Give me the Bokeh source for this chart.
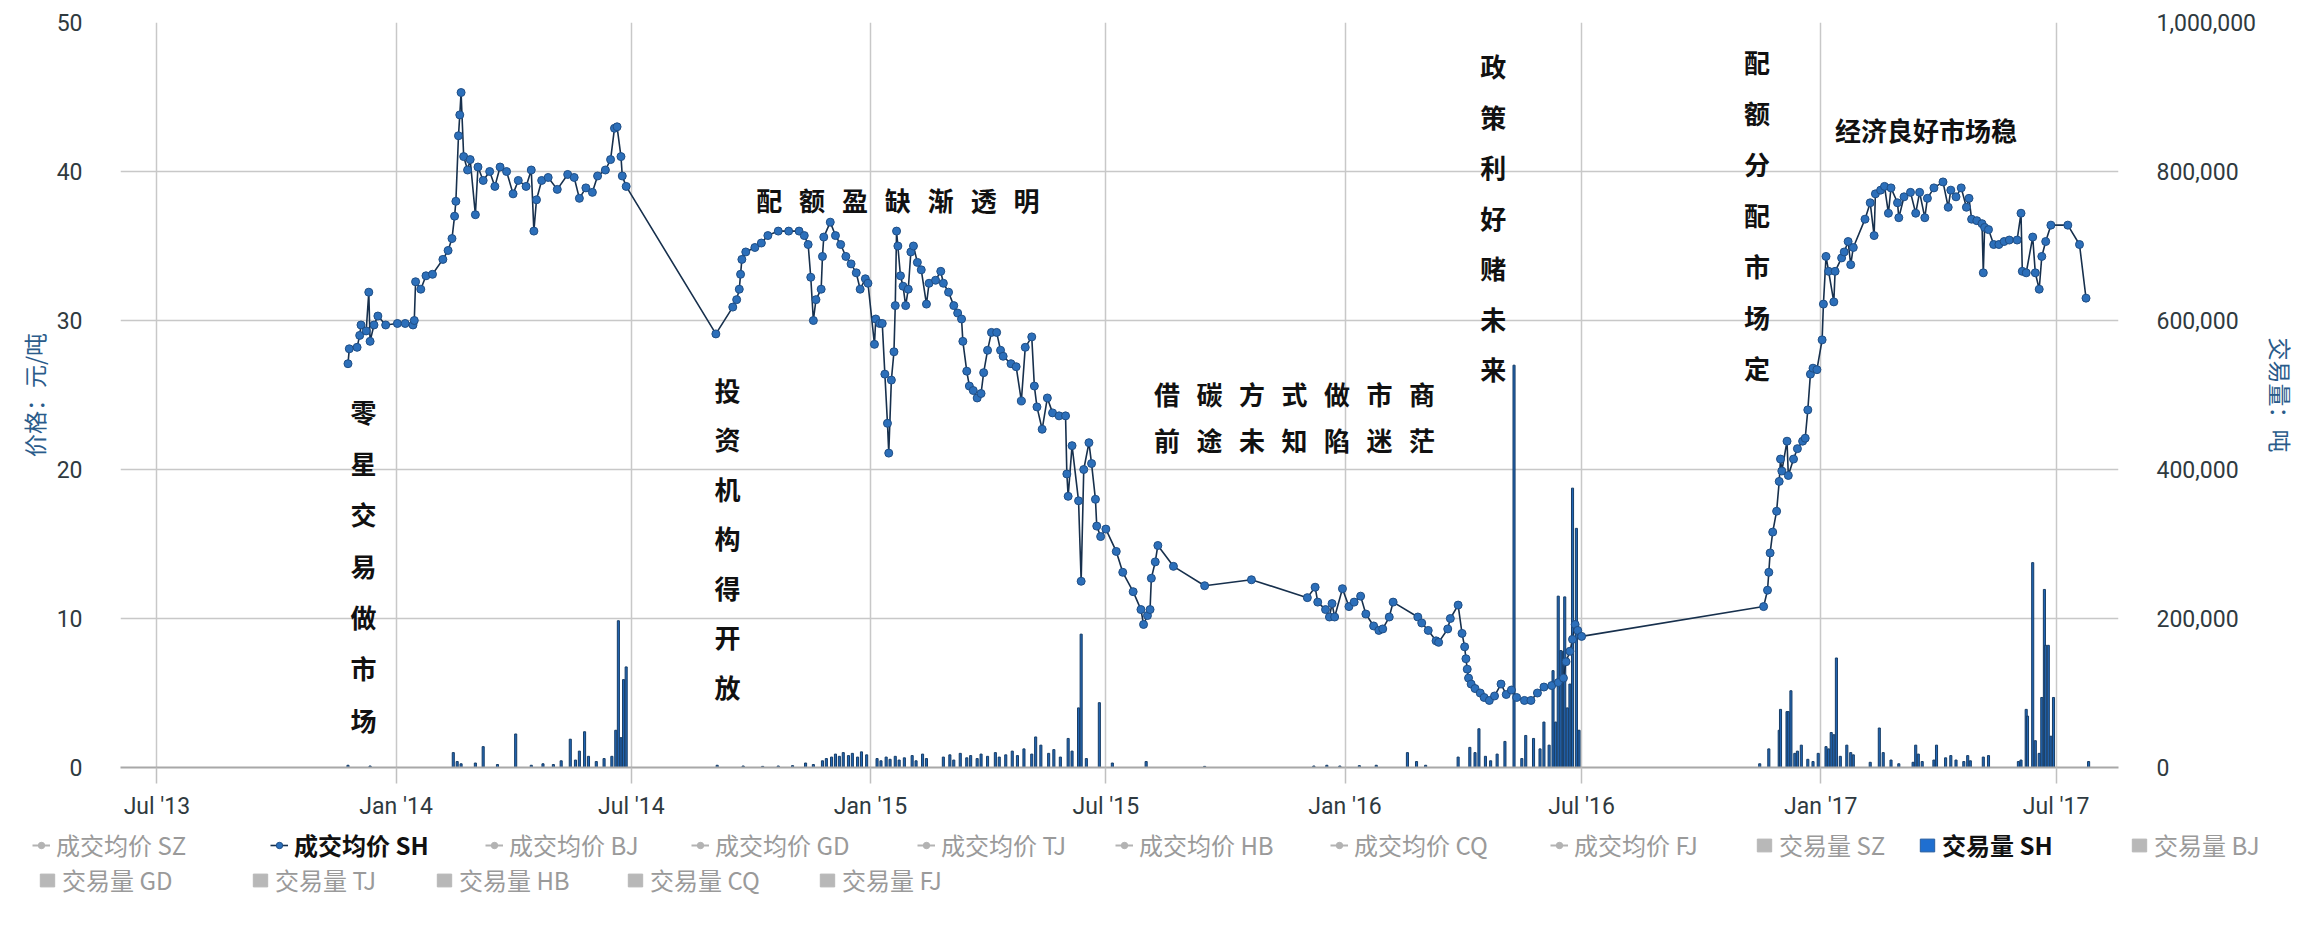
import pandas as pd
from datetime import datetime
from bokeh.plotting import figure
from bokeh.layouts import column
from bokeh.models import (ColumnDataSource, Range1d, LinearAxis, Legend, LegendItem,
                          MonthsTicker, DatetimeTickFormatter, SingleIntervalTicker,
                          NumeralTickFormatter)
from bokeh.core.properties import value
from bokeh.embed import file_html
from bokeh.resources import INLINE

# ---------------- data ----------------
price_dates = [
    "2013-11-25", "2013-11-26", "2013-12-02", "2013-12-04", "2013-12-05", "2013-12-09", "2013-12-11",
    "2013-12-12", "2013-12-15", "2013-12-18", "2013-12-24",
    "2014-01-02", "2014-01-08", "2014-01-14", "2014-01-15", "2014-01-16", "2014-01-20", "2014-01-24",
    "2014-01-29", "2014-02-06", "2014-02-10", "2014-02-13", "2014-02-15", "2014-02-16", "2014-02-18",
    "2014-02-19", "2014-02-20", "2014-02-22", "2014-02-25", "2014-02-27", "2014-03-03", "2014-03-05",
    "2014-03-09", "2014-03-14", "2014-03-18", "2014-03-22", "2014-03-27", "2014-04-01", "2014-04-05",
    "2014-04-11", "2014-04-15", "2014-04-17", "2014-04-19", "2014-04-23", "2014-04-28", "2014-05-05",
    "2014-05-13", "2014-05-18", "2014-05-22", "2014-05-27", "2014-06-01", "2014-06-05", "2014-06-11",
    "2014-06-15", "2014-06-18", "2014-06-20", "2014-06-23", "2014-06-24", "2014-06-27",
    "2014-09-04", "2014-09-17", "2014-09-20", "2014-09-22", "2014-09-23", "2014-09-24", "2014-09-27",
    "2014-10-04", "2014-10-09", "2014-10-14", "2014-10-22", "2014-10-30", "2014-11-07", "2014-11-11",
    "2014-11-14", "2014-11-16", "2014-11-18", "2014-11-20", "2014-11-24", "2014-11-25", "2014-11-26",
    "2014-12-01", "2014-12-05", "2014-12-09", "2014-12-13", "2014-12-17", "2014-12-21", "2014-12-24",
    "2014-12-28", "2014-12-30",
    "2015-01-04", "2015-01-05", "2015-01-08", "2015-01-10", "2015-01-12", "2015-01-14", "2015-01-15",
    "2015-01-17", "2015-01-19", "2015-01-20", "2015-01-21", "2015-01-22", "2015-01-24", "2015-01-26",
    "2015-01-28", "2015-01-30", "2015-02-01", "2015-02-03", "2015-02-06", "2015-02-09", "2015-02-13",
    "2015-02-15", "2015-02-20", "2015-02-24", "2015-02-26", "2015-03-02", "2015-03-06", "2015-03-09",
    "2015-03-12", "2015-03-13", "2015-03-16", "2015-03-18", "2015-03-21", "2015-03-24", "2015-03-27",
    "2015-03-29", "2015-04-01", "2015-04-04", "2015-04-08", "2015-04-11", "2015-04-13", "2015-04-19",
    "2015-04-23", "2015-04-27", "2015-04-30", "2015-05-05", "2015-05-07", "2015-05-09", "2015-05-13",
    "2015-05-17", "2015-05-21", "2015-05-26", "2015-05-31", "2015-06-01", "2015-06-02", "2015-06-05",
    "2015-06-10", "2015-06-12", "2015-06-14", "2015-06-18", "2015-06-20", "2015-06-23", "2015-06-24",
    "2015-06-27", "2015-07-01", "2015-07-09", "2015-07-14", "2015-07-22", "2015-07-28", "2015-07-30",
    "2015-08-02", "2015-08-04", "2015-08-05", "2015-08-08", "2015-08-10", "2015-08-22", "2015-09-15",
    "2015-10-21", "2015-12-03", "2015-12-09", "2015-12-11", "2015-12-17", "2015-12-20", "2015-12-22",
    "2015-12-24", "2015-12-30",
    "2016-01-04", "2016-01-08", "2016-01-13", "2016-01-17", "2016-01-23", "2016-01-27", "2016-01-30",
    "2016-02-04", "2016-02-07", "2016-02-26", "2016-02-29", "2016-03-05", "2016-03-11", "2016-03-13",
    "2016-03-20", "2016-03-22", "2016-03-28", "2016-03-31", "2016-04-02", "2016-04-03", "2016-04-04",
    "2016-04-05", "2016-04-07", "2016-04-10", "2016-04-14", "2016-04-17", "2016-04-21", "2016-04-25",
    "2016-04-30", "2016-05-04", "2016-05-08", "2016-05-12", "2016-05-18", "2016-05-23", "2016-05-28",
    "2016-06-02", "2016-06-08", "2016-06-13", "2016-06-17", "2016-06-19", "2016-06-22", "2016-06-24",
    "2016-06-26", "2016-06-28", "2016-07-01",
    "2016-11-18", "2016-11-21", "2016-11-22", "2016-11-23", "2016-11-25", "2016-11-28", "2016-11-30",
    "2016-12-01", "2016-12-02", "2016-12-06", "2016-12-07", "2016-12-11", "2016-12-14", "2016-12-18",
    "2016-12-20", "2016-12-22", "2016-12-24", "2016-12-26", "2016-12-29",
    "2017-01-02", "2017-01-03", "2017-01-05", "2017-01-07", "2017-01-11", "2017-01-12", "2017-01-17",
    "2017-01-19", "2017-01-22", "2017-01-24", "2017-01-26", "2017-02-04", "2017-02-08", "2017-02-11",
    "2017-02-12", "2017-02-16", "2017-02-19", "2017-02-22", "2017-02-24", "2017-03-01", "2017-03-02",
    "2017-03-06", "2017-03-11", "2017-03-15", "2017-03-18", "2017-03-22", "2017-03-24", "2017-03-29",
    "2017-04-05", "2017-04-09", "2017-04-11", "2017-04-15", "2017-04-19", "2017-04-23", "2017-04-25",
    "2017-04-27", "2017-05-01", "2017-05-05", "2017-05-06", "2017-05-07", "2017-05-10", "2017-05-14",
    "2017-05-18", "2017-05-22", "2017-05-26", "2017-06-01", "2017-06-04", "2017-06-05", "2017-06-08",
    "2017-06-13", "2017-06-15", "2017-06-18", "2017-06-20", "2017-06-23", "2017-06-27", "2017-07-10",
    "2017-07-19", "2017-07-24",
]
price_values = [
    27.1, 28.1, 28.2, 29.0, 29.7, 29.3, 31.9,
    28.6, 29.7, 30.3, 29.7,
    29.8, 29.8, 29.7, 30.0, 32.6, 32.1, 33.0,
    33.1, 34.1, 34.7, 35.5, 37.0, 38.0, 42.4,
    43.8, 45.3, 41.0, 40.1, 40.8, 37.1, 40.3,
    39.4, 40.0, 39.0, 40.3, 40.0, 38.5, 39.4,
    39.0, 40.1, 36.0, 38.1, 39.4, 39.6, 38.8,
    39.8, 39.6, 38.2, 38.9, 38.6, 39.7, 40.1,
    40.8, 42.9, 43.0, 41.0, 39.7, 39.0,
    29.1, 30.9, 31.4, 32.1, 33.1, 34.1, 34.6,
    34.9, 35.2, 35.7, 36.0, 36.0, 36.0, 35.7,
    35.1, 32.9, 30.0, 31.4, 32.1, 34.3, 35.6,
    36.6, 35.7, 35.1, 34.3, 33.8, 33.2, 32.1,
    32.8, 32.5,
    28.4, 30.1, 29.8, 29.8, 26.4, 23.1, 21.1,
    26.0, 27.9, 31.0, 36.0, 35.0, 33.0, 32.3,
    31.0, 32.1, 34.6, 35.0, 33.9, 33.4, 31.1,
    32.5, 32.7, 33.3, 32.5, 31.9, 31.0, 30.5,
    30.1, 28.6, 26.6, 25.6, 25.3, 24.8, 25.1,
    26.5, 28.0, 29.2, 29.2, 28.0, 27.6, 27.1,
    26.9, 24.6, 28.2, 28.9, 25.6, 24.2, 22.7,
    24.8, 23.8, 23.6, 23.6, 19.7, 18.2, 21.6,
    17.9, 12.5, 20.0, 21.8, 20.4, 18.0, 16.2,
    15.5, 16.0, 14.5, 13.1, 11.8, 10.6, 9.6,
    10.2, 10.6, 12.7, 13.8, 14.9, 13.5, 12.2,
    12.6, 11.4, 12.1, 11.1, 10.6, 10.1, 11.0,
    10.1, 12.0,
    10.8, 11.1, 11.5, 10.3, 9.5, 9.2, 9.3,
    10.1, 11.1, 10.1, 9.7, 9.2, 8.5, 8.4,
    9.3, 10.0, 10.9, 9.0, 8.1, 7.3, 6.6,
    6.0, 5.6, 5.3, 5.0, 4.7, 4.5, 4.8,
    5.6, 4.9, 5.2, 4.7, 4.5, 4.5, 5.0,
    5.4, 5.5, 5.7, 6.0, 7.1, 7.8, 8.6,
    9.6, 9.2, 8.8,
    10.8, 11.9, 13.1, 14.4, 15.8, 17.2, 19.2,
    20.7, 19.9, 21.9, 19.6, 20.7, 21.4, 21.9,
    22.1, 24.0, 26.4, 26.8, 26.7,
    28.7, 31.1, 34.3, 33.3, 31.25, 33.3, 34.2,
    34.6, 35.3, 33.75, 34.9, 36.8, 37.9, 35.7,
    38.5, 38.75, 39.0, 37.2, 38.9, 37.9, 36.9,
    38.3, 38.6, 37.2, 38.6, 36.9, 38.2, 38.9,
    39.3, 37.6, 38.75, 38.3, 38.9, 37.6, 38.2,
    36.8, 36.7, 36.5, 33.2, 36.25, 36.1, 35.1,
    35.1, 35.3, 35.4, 35.4, 37.2, 33.3, 33.2,
    35.6, 33.2, 32.1, 34.3, 35.3, 36.4, 36.4,
    35.1, 31.5,
]

volume_dates = [
    "2013-11-25", "2013-12-12",
    "2014-02-14", "2014-02-17", "2014-02-20", "2014-03-03", "2014-03-09", "2014-03-20", "2014-04-03",
    "2014-04-15", "2014-04-24", "2014-05-02", "2014-05-08", "2014-05-15", "2014-05-19", "2014-05-22",
    "2014-05-26", "2014-05-29", "2014-06-04", "2014-06-10", "2014-06-16", "2014-06-19", "2014-06-21",
    "2014-06-23", "2014-06-25", "2014-06-27", "2014-09-05", "2014-09-25", "2014-10-10", "2014-10-22",
    "2014-11-02", "2014-11-12", "2014-11-18", "2014-11-25", "2014-11-28", "2014-12-02", "2014-12-05",
    "2014-12-08", "2014-12-11", "2014-12-15", "2014-12-18", "2014-12-22", "2014-12-25", "2014-12-29",
    "2015-01-06", "2015-01-09", "2015-01-13", "2015-01-16", "2015-01-20", "2015-01-23", "2015-01-27",
    "2015-02-02", "2015-02-05", "2015-02-10", "2015-02-13", "2015-02-26", "2015-03-03", "2015-03-06",
    "2015-03-11", "2015-03-16", "2015-03-19", "2015-03-24", "2015-03-27", "2015-04-01", "2015-04-07",
    "2015-04-10", "2015-04-15", "2015-04-20", "2015-04-24", "2015-04-29", "2015-05-05", "2015-05-08",
    "2015-05-12", "2015-05-18", "2015-05-22", "2015-05-27", "2015-06-02", "2015-06-05", "2015-06-10",
    "2015-06-12", "2015-06-16", "2015-06-26", "2015-07-06", "2015-08-01", "2015-09-15", "2015-12-08",
    "2015-12-18", "2015-12-28",
    "2016-01-12", "2016-01-25", "2016-02-18", "2016-02-25", "2016-03-03", "2016-03-28", "2016-04-06",
    "2016-04-10", "2016-04-13", "2016-04-18", "2016-04-22", "2016-04-27", "2016-05-03", "2016-05-10",
    "2016-05-16", "2016-05-19", "2016-05-25", "2016-05-30", "2016-06-02", "2016-06-06", "2016-06-09",
    "2016-06-11", "2016-06-13", "2016-06-15", "2016-06-17", "2016-06-18", "2016-06-20", "2016-06-22",
    "2016-06-24", "2016-06-27", "2016-06-29", "2016-11-15", "2016-11-22", "2016-11-30", "2016-12-01",
    "2016-12-06", "2016-12-07", "2016-12-09", "2016-12-12", "2016-12-14", "2016-12-17", "2016-12-22",
    "2016-12-26", "2016-12-30",
    "2017-01-05", "2017-01-07", "2017-01-09", "2017-01-11", "2017-01-13", "2017-01-16", "2017-01-21",
    "2017-01-24", "2017-01-26", "2017-02-08", "2017-02-15", "2017-02-18", "2017-02-24", "2017-03-02",
    "2017-03-13", "2017-03-15", "2017-03-17", "2017-03-20", "2017-03-29", "2017-03-31", "2017-04-07",
    "2017-04-11", "2017-04-15", "2017-04-21", "2017-04-24", "2017-04-26", "2017-05-06", "2017-05-10",
    "2017-06-02", "2017-06-04", "2017-06-08", "2017-06-09", "2017-06-13", "2017-06-15", "2017-06-18",
    "2017-06-20", "2017-06-22", "2017-06-23", "2017-06-25", "2017-06-27", "2017-06-29", "2017-07-26",
]
volume_values = [
    3000, 2000,
    20000, 8000, 5000, 6000, 28000, 4000, 45000,
    3000, 5000, 4000, 9000, 38000, 10000, 22000,
    48000, 15000, 8000, 12000, 15000, 50000, 197000,
    40000, 118000, 135000, 3000, 2000, 1500, 2000,
    2500, 6000, 4000, 9000, 12000, 14000, 18000,
    15000, 20000, 16000, 19000, 14000, 21000, 17000,
    12000, 9000, 14000, 11000, 15000, 10000, 13000,
    16000, 9000, 18000, 12000, 14000, 17000, 10000,
    19000, 13000, 16000, 12000, 18000, 15000, 20000,
    14000, 17000, 22000, 16000, 25000, 18000, 41000,
    30000, 19000, 24000, 14000, 39000, 22000, 80000,
    179000, 12000, 87000, 6000, 8000, 1500, 2000,
    3000, 2000,
    2500, 3000, 20000, 8000, 3000, 14000, 27000,
    20000, 52000, 15000, 9000, 18000, 35000, 540000,
    12000, 43000, 39000, 25000, 61000, 30000, 130000,
    61000, 230000, 157000, 156000, 229000, 80000, 112000,
    375000, 321000, 50000, 5000, 25000, 50000, 78000,
    75000, 75000, 103000, 19000, 22000, 30000, 11000,
    8000, 19000,
    28000, 25000, 47000, 44000, 147000, 15000, 30000,
    20000, 17000, 7000, 53000, 20000, 10000, 5000,
    7000, 30000, 18000, 8000, 10000, 30000, 13000,
    16000, 10000, 8000, 16000, 9000, 14000, 16000,
    8000, 10000, 78000, 69000, 275000, 36000, 19000,
    94000, 239000, 164000, 164000, 42000, 94000, 8000,
]

price_series = ["成交均价 SZ", "成交均价 SH", "成交均价 BJ", "成交均价 GD",
                "成交均价 TJ", "成交均价 HB", "成交均价 CQ", "成交均价 FJ"]
volume_series = ["交易量 SZ", "交易量 SH", "交易量 BJ", "交易量 GD",
                 "交易量 TJ", "交易量 HB", "交易量 CQ", "交易量 FJ"]
active_series = ["成交均价 SH", "交易量 SH"]

annotation_texts = ["零星交易做市场", "投资机构得开放", "配额盈缺渐透明", "借碳方式做市商",
                    "前途未知陷迷茫", "政策利好赌未来", "配额分配市场定", "经济良好市场稳"]

# ---------------- layout / style ----------------
# anchor (date, price) of first character, per-character step in screen px (dx, dy)
annotation_layout = [
    ("2013-12-07", 23.9, 0, 51.3),
    ("2014-09-13", 25.4, 0, 49.5),
    ("2014-10-15", 38.15, 42.9, 0),
    ("2015-08-17", 25.13, 42.5, 0),
    ("2015-08-17", 22.0, 42.5, 0),
    ("2016-04-24", 47.1, 0, 50.5),
    ("2016-11-13", 47.4, 0, 51.0),
    ("2017-03-23", 42.8, None, None),
]
# legend item positions (px) inside the legend strip, from its bottom-left corner
legend_row1_x = [32, 270, 485, 691, 917, 1115, 1330, 1550, 1755, 1918, 2130]
legend_row2_x = [38, 251, 435, 626, 818]
legend_row1_y = 67
legend_row2_y = 32

W = 2311
MAIN_H = 827
LEG_H = 929 - MAIN_H

p = figure(width=W, height=MAIN_H, x_axis_type="datetime",
           x_range=Range1d(datetime(2013, 6, 3), datetime(2017, 8, 18)),
           y_range=Range1d(0, 50),
           output_backend="svg", toolbar_location=None,
           min_border_left=120, min_border_right=193, min_border_top=22,
           min_border_bottom=MAIN_H - 767,
           outline_line_color=None, background_fill_color="white", border_fill_color="white")
p.frame_align = False

p.extra_y_ranges = {"vol": Range1d(0, 1000000)}

tick_font = "Roboto"
yl = p.left[0]
yl.ticker = SingleIntervalTicker(interval=10)
yl.axis_label = "价格：元/吨"
yr = LinearAxis(y_range_name="vol", ticker=SingleIntervalTicker(interval=200000),
                formatter=NumeralTickFormatter(format="0,0"), axis_label="交易量：吨")
p.add_layout(yr, "right")

for ax in (yl, yr):
    ax.axis_line_color = None
    ax.major_tick_line_color = None
    ax.minor_tick_line_color = None
    ax.major_label_standoff = 32
    ax.major_label_text_font = tick_font
    ax.major_label_text_font_size = "23px"
    ax.major_label_text_color = "#2f3a40"
    ax.axis_label_text_font = "Noto Sans CJK SC"
    ax.axis_label_text_font_size = "23px"
    ax.axis_label_text_font_style = "normal"
    ax.axis_label_text_color = "#2a5b8a"
yl.axis_label_standoff = 3
yr.axis_label_standoff = 5

xa = p.below[0]
xa.ticker = MonthsTicker(months=[0, 6])
xa.formatter = DatetimeTickFormatter(months="%b '%y", years="%b '%y", days="%b '%y")
xa.axis_line_color = "#a8a8a8"
xa.axis_line_width = 2
xa.major_tick_line_color = "#c0c0c0"
xa.major_tick_line_width = 1.5
xa.major_tick_in = 0
xa.major_tick_out = 16
xa.minor_tick_line_color = None
xa.major_label_standoff = 9
xa.major_label_text_font = tick_font
xa.major_label_text_font_size = "23px"
xa.major_label_text_color = "#2f3a40"

p.xgrid.grid_line_color = "#c8c8c8"
p.xgrid.grid_line_width = 1.5
p.ygrid.grid_line_color = "#c8c8c8"
p.ygrid.grid_line_width = 1.5

# ---------------- marks ----------------
vol_src = ColumnDataSource(dict(x=pd.to_datetime(volume_dates), top=volume_values))
price_src = ColumnDataSource(dict(x=pd.to_datetime(price_dates), y=price_values))

day_ms = 86400000
VOL_STYLE = dict(fill_color="#2266b5", line_color="#173d66", line_width=1)
LINE_STYLE = dict(line_color="#17304d", line_width=1.6)
PT_STYLE = dict(fill_color="#2c6fba", line_color="#1f4e85", line_width=1)

p.vbar(x="x", top="top", width=1.6 * day_ms, source=vol_src, y_range_name="vol", **VOL_STYLE)
p.line(x="x", y="y", source=price_src, **LINE_STYLE)
p.scatter(x="x", y="y", source=price_src, size=8, **PT_STYLE)

for txt, (d, pr, dx, dy) in zip(annotation_texts, annotation_layout):
    if dx is None:
        chars, xo, yo = [txt], [0], [0]
    else:
        chars = list(txt)
        xo = [i * dx for i in range(len(chars))]
        yo = [i * dy for i in range(len(chars))]
    src = ColumnDataSource(dict(x=[pd.Timestamp(d)] * len(chars), y=[pr] * len(chars),
                                t=chars, xo=xo, yo=yo))
    p.text(x="x", y="y", text="t", x_offset="xo", y_offset="yo", source=src,
           text_font=value("Noto Sans CJK SC"), text_font_style="bold",
           text_font_size="26px", text_color="#111111",
           text_align="center", text_baseline="middle")

# ---------------- legend strip ----------------
lf = figure(width=W, height=LEG_H, x_range=Range1d(0, 1), y_range=Range1d(0, 1),
            x_axis_location=None, y_axis_location=None, min_border=0,
            min_border_left=0, min_border_right=0, min_border_top=0, min_border_bottom=0,
            outline_line_color=None, output_backend="svg", toolbar_location=None,
            background_fill_color="white", border_fill_color="white")
lf.frame_align = False
lf.grid.visible = False

GRAY_GLYPH = "#b3b3b3"
NAN = float("nan")

def legend_renderers(name):
    active = name in active_series
    if name in price_series:
        a = lf.line(x=[NAN], y=[NAN],
                    **(LINE_STYLE if active else dict(line_color=GRAY_GLYPH, line_width=2)))
        b = lf.scatter(x=[NAN], y=[NAN],
                       **(PT_STYLE if active else dict(fill_color=GRAY_GLYPH, line_color=GRAY_GLYPH)))
        return [a, b]
    style = dict(fill_color="#1f6fd0", line_color="#2a5e9e", line_width=1) if active else \
        dict(fill_color="#b8b8b8", line_color="#b8b8b8")
    return [lf.vbar(x=[NAN], top=[NAN], width=0.01, **style)]

all_items = price_series + volume_series
row1 = all_items[:11]
row2 = all_items[11:]
for names, xs, y in ((row1, legend_row1_x, legend_row1_y), (row2, legend_row2_x, legend_row2_y)):
    for name, x in zip(names, xs):
        active = name in active_series
        leg = Legend(items=[LegendItem(label=name, renderers=legend_renderers(name))],
                     location=(x, y), orientation="horizontal",
                     padding=0, margin=0, spacing=0,
                     border_line_color=None, background_fill_alpha=0,
                     glyph_width=18, glyph_height=16, label_standoff=6, label_height=24,
                     label_text_font="Noto Sans CJK SC", label_text_font_size="24px",
                     label_text_color="#111111" if active else "#9a9a9a",
                     label_text_font_style="bold" if active else "normal")
        lf.add_layout(leg)

layout = column(p, lf, spacing=0)
open("out.html", "w").write(file_html(layout, INLINE))
